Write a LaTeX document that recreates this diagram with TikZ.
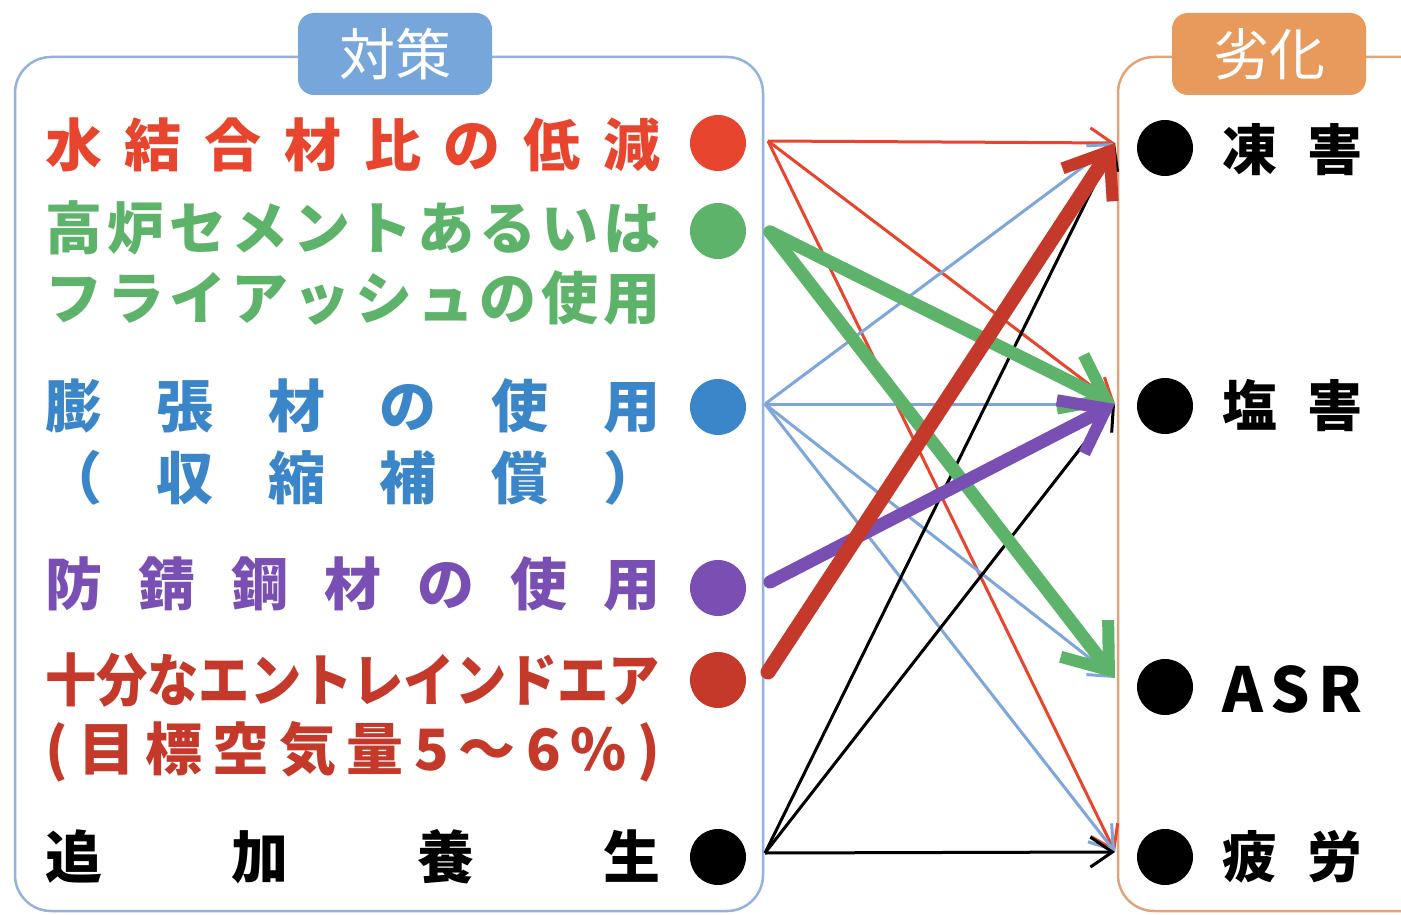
\documentclass[tikz,border=0pt]{standalone}
\usepackage{fontspec}
\setmainfont{Noto Sans CJK JP}
\usetikzlibrary{arrows.meta}
\definecolor{cRed}{HTML}{E8452E}
\definecolor{cGreen}{HTML}{5DB36A}
\definecolor{cBlue}{HTML}{3A86C8}
\definecolor{cLBlue}{HTML}{7EA6DA}
\definecolor{cPurple}{HTML}{7A4FB4}
\definecolor{cDRed}{HTML}{C4392A}
\definecolor{cBoxL}{HTML}{93B2DC}
\definecolor{cBoxR}{HTML}{E2A57A}
\definecolor{cTitL}{HTML}{77A6DA}
\definecolor{cTitR}{HTML}{E8995C}
\tikzset{
  lbl/.style={anchor=west, inner sep=0pt, font=\bfseries\fontsize{57}{60}\selectfont},
  rlbl/.style={anchor=west, inner sep=0pt, font=\bfseries\fontsize{55}{60}\selectfont},
  dot/.style={circle, inner sep=0pt, minimum size=56pt},
  titlebox/.style={rounded corners=16pt, minimum width=194pt, minimum height=82pt, inner sep=0pt, text=white, font=\fontsize{56}{60}\selectfont},
  thin/.style={line width=3pt, -{Straight Barb[length=22pt,width=30pt,line width=3pt]}},
  thick/.style={line width=13pt, line cap=round, -{Straight Barb[length=40pt,width=60pt,line width=12pt]}},
}
\begin{document}
\begin{tikzpicture}[x=1pt,y=-1pt]
\clip (0,0) rectangle (1401,915);
\fill[white] (0,0) rectangle (1401,915);
% boxes
\draw[cBoxL, line width=2.5pt, rounded corners=36pt] (15,57) rectangle (763,911);
\draw[cBoxR, line width=2.5pt, rounded corners=36pt] (1118,57) rectangle (1460,911);
\node[titlebox, fill=cTitL] (tL) at (395,54) {対策};
\node[titlebox, fill=cTitR] (tR) at (1269,54) {劣化};
% left labels
\node[lbl, text=cRed] (a1) at (45,145) {\makebox[615pt][s]{水\hfill 結\hfill 合\hfill 材\hfill 比\hfill の\hfill 低\hfill 減}};
\node[lbl, text=cGreen] (a2) at (45,228) {\makebox[615pt][s]{高\hfill 炉\hfill セ\hfill メ\hfill ン\hfill ト\hfill あ\hfill る\hfill い\hfill は}};
\node[lbl, text=cGreen] (a3) at (45,298) {\makebox[615pt][s]{フ\hfill ラ\hfill イ\hfill ア\hfill ッ\hfill シ\hfill ュ\hfill の\hfill 使\hfill 用}};
\node[lbl, text=cBlue] (a4) at (45,406) {\makebox[615pt][s]{膨\hfill 張\hfill 材\hfill の\hfill 使\hfill 用}};
\node[lbl, text=cBlue] (a5) at (45,478) {\makebox[615pt][s]{（\hfill 収\hfill 縮\hfill 補\hfill 償\hfill ）}};
\node[lbl, text=cPurple] (a6) at (45,584) {\makebox[615pt][s]{防\hfill 錆\hfill 鋼\hfill 材\hfill の\hfill 使\hfill 用}};
\node[lbl, text=cDRed] (a7) at (45,680) {\resizebox{615pt}{\height}{十分なエントレインドエア}};
\node[lbl, text=cDRed] (a8) at (45,752) {\makebox[615pt][s]{(\hfill 目\hfill 標\hfill 空\hfill 気\hfill 量\hfill 5\hfill ～\hfill 6\hfill \%\hfill )}};
\node[lbl, text=black] (a9) at (45,857) {\makebox[615pt][s]{追\hfill 加\hfill 養\hfill 生}};
% left dots
\node[dot, fill=cRed] (L1) at (718,143) {};
\node[dot, fill=cGreen] (L2) at (718,231) {};
\node[dot, fill=cBlue] (L3) at (718,407) {};
\node[dot, fill=cPurple] (L4) at (718,588) {};
\node[dot, fill=cDRed] (L5) at (718,680) {};
\node[dot, fill=black] (L6) at (718,857) {};
% right dots and labels
\node[dot, fill=black] (R1) at (1165,148) {};
\node[dot, fill=black] (R2) at (1165,406) {};
\node[dot, fill=black] (R3) at (1165,687) {};
\node[dot, fill=black] (R4) at (1165,857) {};
\node[rlbl] (b1) at (1222,150) {\makebox[140pt][s]{凍\hfill 害}};
\node[rlbl] (b2) at (1222,406) {\makebox[140pt][s]{塩\hfill 害}};
\node[rlbl, font=\bfseries\fontsize{62}{62}\selectfont] (b3) at (1222,689) {\makebox[140pt][s]{A\hfill S\hfill R}};
\node[rlbl] (b4) at (1222,857) {\makebox[140pt][s]{疲\hfill 労}};
% connector ends
\coordinate (s1) at (768,141);
\coordinate (s2) at (770,232);
\coordinate (s3) at (765,404);
\coordinate (s4) at (770,582);
\coordinate (s5) at (768,672);
\coordinate (s6) at (765,853);
\coordinate (t1) at (1115,143);
\coordinate (t2) at (1115,404);
\coordinate (t3) at (1115,678);
\coordinate (t4) at (1115,852);
% thin connectors
\draw[thin, cRed] (s1) -- (t1);
\draw[thin, cRed] (s1) -- (t2);
\draw[thin, cRed] (s1) -- (t4);
\draw[thin, cLBlue] (s3) -- (t1);
\draw[thin, cLBlue] (s3) -- (t2);
\draw[thin, cLBlue] (s3) -- (t3);
\draw[thin, cLBlue] (s3) -- (t4);
\draw[thin, black] (s6) -- (t1);
\draw[thin, black] (s6) -- (t2);
\draw[thin, black] (s6) -- (t4);
% thick connectors
\draw[thick, cGreen] (s2) -- (t2);
\draw[thick, cGreen] (s2) -- (t3);
\draw[thick, cPurple] (s4) -- (t2);
\draw[thick, cDRed, line width=15pt] (s5) -- (t1);
\end{tikzpicture}
\end{document}
